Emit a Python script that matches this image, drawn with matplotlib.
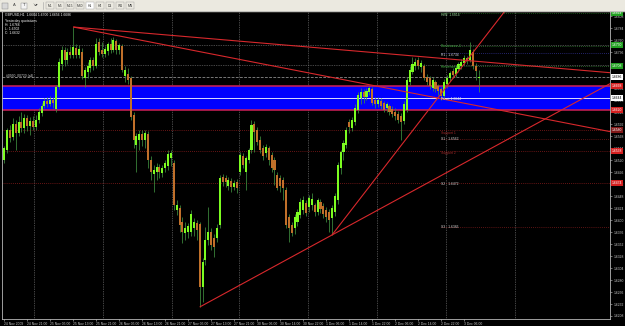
#!/usr/bin/env python3

import matplotlib
matplotlib.use("Agg")
import matplotlib.pyplot as plt
from matplotlib.patches import Rectangle
import numpy as np

plt.rcParams["font.family"] = ["Liberation Sans", "DejaVu Sans"]

W, H = 625, 326

# ---- data (GBPUSD H1, 24 Nov - 3 Dec 2009) ----
symbol = "GBPUSD,H1"

opens = [
    1.6520, 1.6540, 1.6580, 1.6566, 1.6592, 1.6574, 1.6596, 1.6584, 1.6604, 1.6588,
    1.6598, 1.6586, 1.6600, 1.6614, 1.6628, 1.6638, 1.6632, 1.6640, 1.6622, 1.6666,
    1.6712, 1.6740, 1.6720, 1.6736, 1.6730, 1.6744, 1.6730, 1.6736, 1.6684, 1.6696,
    1.6704, 1.6720, 1.6708, 1.6756, 1.6740, 1.6732, 1.6738, 1.6752, 1.6740, 1.6758,
    1.6740, 1.6748, 1.6688, 1.6692, 1.6684, 1.6610, 1.6550, 1.6560, 1.6572, 1.6560,
    1.6572, 1.6520, 1.6492, 1.6496, 1.6506, 1.6494, 1.6504, 1.6508, 1.6524, 1.6514,
    1.6420, 1.6424, 1.6396, 1.6374, 1.6376, 1.6376, 1.6384, 1.6394, 1.6392, 1.6266,
    1.6320, 1.6360, 1.6376, 1.6364, 1.6364, 1.6390, 1.6486, 1.6484, 1.6468, 1.6478,
    1.6466, 1.6476, 1.6496, 1.6528, 1.6496, 1.6520, 1.6540, 1.6592, 1.6580, 1.6560,
    1.6544, 1.6534, 1.6544, 1.6530, 1.6520, 1.6490, 1.6484, 1.6480, 1.6460, 1.6406,
    1.6390, 1.6384, 1.6396, 1.6410, 1.6420, 1.6434, 1.6426, 1.6430, 1.6430, 1.6416,
    1.6436, 1.6428, 1.6420, 1.6416, 1.6404, 1.6416, 1.6440, 1.6504, 1.6536, 1.6550,
    1.6596, 1.6584, 1.6596, 1.6620, 1.6644, 1.6656, 1.6646, 1.6656, 1.6662, 1.6640,
    1.6632, 1.6638, 1.6634, 1.6624, 1.6628, 1.6622, 1.6616, 1.6612, 1.6608, 1.6598,
    1.6620, 1.6676, 1.6696, 1.6708, 1.6720, 1.6706, 1.6708, 1.6686, 1.6684, 1.6664,
    1.6676, 1.6668, 1.6662, 1.6648, 1.6672, 1.6684, 1.6698, 1.6692, 1.6702, 1.6708,
    1.6714, 1.6724, 1.6720, 1.6736, 1.6708, 1.6684,
]
highs = [
    1.6548, 1.6584, 1.6590, 1.6604, 1.6600, 1.6608, 1.6616, 1.6612, 1.6610, 1.6606,
    1.6608, 1.6610, 1.6624, 1.6634, 1.6644, 1.6646, 1.6648, 1.6646, 1.6670, 1.6724,
    1.6748, 1.6746, 1.6744, 1.6748, 1.6786, 1.6752, 1.6750, 1.6744, 1.6706, 1.6716,
    1.6726, 1.6726, 1.6764, 1.6764, 1.6756, 1.6748, 1.6756, 1.6764, 1.6766, 1.6762,
    1.6754, 1.6752, 1.6708, 1.6704, 1.6688, 1.6616, 1.6574, 1.6580, 1.6580, 1.6580,
    1.6578, 1.6528, 1.6510, 1.6514, 1.6512, 1.6510, 1.6520, 1.6540, 1.6540, 1.6520,
    1.6440, 1.6430, 1.6406, 1.6396, 1.6394, 1.6420, 1.6404, 1.6400, 1.6396, 1.6324,
    1.6386, 1.6426, 1.6384, 1.6372, 1.6392, 1.6490, 1.6492, 1.6490, 1.6486, 1.6484,
    1.6480, 1.6482, 1.6536, 1.6534, 1.6528, 1.6544, 1.6600, 1.6598, 1.6586, 1.6568,
    1.6550, 1.6552, 1.6548, 1.6536, 1.6526, 1.6496, 1.6490, 1.6486, 1.6466, 1.6412,
    1.6396, 1.6412, 1.6422, 1.6444, 1.6448, 1.6440, 1.6450, 1.6454, 1.6434, 1.6444,
    1.6442, 1.6434, 1.6426, 1.6422, 1.6430, 1.6454, 1.6516, 1.6540, 1.6560, 1.6586,
    1.6602, 1.6606, 1.6632, 1.6656, 1.6664, 1.6662, 1.6664, 1.6668, 1.6666, 1.6646,
    1.6646, 1.6644, 1.6638, 1.6636, 1.6632, 1.6628, 1.6624, 1.6618, 1.6614, 1.6638,
    1.6686, 1.6708, 1.6726, 1.6724, 1.6726, 1.6720, 1.6712, 1.6692, 1.6688, 1.6686,
    1.6680, 1.6672, 1.6666, 1.6682, 1.6690, 1.6698, 1.6704, 1.6710, 1.6716, 1.6722,
    1.6730, 1.6728, 1.6756, 1.6742, 1.6714, 1.6700,
]
lows = [
    1.6514, 1.6534, 1.6556, 1.6560, 1.6540, 1.6568, 1.6576, 1.6574, 1.6578, 1.6570,
    1.6580, 1.6580, 1.6594, 1.6608, 1.6624, 1.6626, 1.6628, 1.6624, 1.6616, 1.6662,
    1.6700, 1.6708, 1.6712, 1.6724, 1.6724, 1.6724, 1.6724, 1.6682, 1.6666, 1.6684,
    1.6696, 1.6700, 1.6704, 1.6730, 1.6726, 1.6726, 1.6730, 1.6734, 1.6736, 1.6732,
    1.6732, 1.6696, 1.6676, 1.6672, 1.6600, 1.6544, 1.6496, 1.6540, 1.6548, 1.6544,
    1.6504, 1.6480, 1.6456, 1.6480, 1.6484, 1.6486, 1.6496, 1.6500, 1.6508, 1.6420,
    1.6410, 1.6376, 1.6354, 1.6360, 1.6364, 1.6368, 1.6368, 1.6360, 1.6226, 1.6236,
    1.6310, 1.6350, 1.6340, 1.6326, 1.6356, 1.6384, 1.6468, 1.6466, 1.6460, 1.6456,
    1.6460, 1.6454, 1.6490, 1.6504, 1.6460, 1.6514, 1.6534, 1.6536, 1.6550, 1.6534,
    1.6520, 1.6526, 1.6510, 1.6496, 1.6470, 1.6460, 1.6456, 1.6440, 1.6384, 1.6356,
    1.6368, 1.6372, 1.6388, 1.6404, 1.6412, 1.6408, 1.6416, 1.6420, 1.6408, 1.6410,
    1.6414, 1.6404, 1.6396, 1.6376, 1.6370, 1.6408, 1.6432, 1.6492, 1.6520, 1.6544,
    1.6574, 1.6578, 1.6590, 1.6614, 1.6632, 1.6634, 1.6640, 1.6650, 1.6630, 1.6624,
    1.6626, 1.6622, 1.6616, 1.6616, 1.6610, 1.6606, 1.6600, 1.6594, 1.6560, 1.6592,
    1.6616, 1.6670, 1.6692, 1.6700, 1.6702, 1.6696, 1.6680, 1.6670, 1.6662, 1.6658,
    1.6656, 1.6650, 1.6640, 1.6642, 1.6664, 1.6678, 1.6684, 1.6686, 1.6696, 1.6702,
    1.6710, 1.6712, 1.6716, 1.6702, 1.6680, 1.6656,
]
closes = [
    1.6544, 1.6580, 1.6564, 1.6592, 1.6574, 1.6596, 1.6584, 1.6604, 1.6588, 1.6598,
    1.6586, 1.6600, 1.6616, 1.6628, 1.6638, 1.6632, 1.6640, 1.6634, 1.6666, 1.6716,
    1.6740, 1.6720, 1.6736, 1.6730, 1.6746, 1.6730, 1.6742, 1.6688, 1.6700, 1.6708,
    1.6720, 1.6708, 1.6752, 1.6736, 1.6732, 1.6742, 1.6752, 1.6740, 1.6760, 1.6740,
    1.6750, 1.6700, 1.6700, 1.6680, 1.6606, 1.6560, 1.6568, 1.6572, 1.6560, 1.6574,
    1.6520, 1.6496, 1.6500, 1.6506, 1.6496, 1.6504, 1.6514, 1.6532, 1.6534, 1.6430,
    1.6430, 1.6390, 1.6376, 1.6384, 1.6388, 1.6412, 1.6396, 1.6380, 1.6266, 1.6316,
    1.6360, 1.6376, 1.6350, 1.6346, 1.6384, 1.6484, 1.6476, 1.6476, 1.6480, 1.6466,
    1.6474, 1.6464, 1.6530, 1.6510, 1.6524, 1.6540, 1.6590, 1.6576, 1.6556, 1.6540,
    1.6528, 1.6546, 1.6520, 1.6504, 1.6500, 1.6464, 1.6468, 1.6464, 1.6390, 1.6384,
    1.6374, 1.6406, 1.6416, 1.6436, 1.6440, 1.6414, 1.6444, 1.6442, 1.6416, 1.6440,
    1.6422, 1.6412, 1.6406, 1.6400, 1.6424, 1.6448, 1.6510, 1.6536, 1.6554, 1.6580,
    1.6586, 1.6600, 1.6624, 1.6650, 1.6656, 1.6646, 1.6658, 1.6664, 1.6634, 1.6632,
    1.6640, 1.6628, 1.6620, 1.6632, 1.6616, 1.6612, 1.6608, 1.6600, 1.6596, 1.6632,
    1.6680, 1.6700, 1.6712, 1.6716, 1.6708, 1.6714, 1.6684, 1.6676, 1.6668, 1.6680,
    1.6662, 1.6658, 1.6648, 1.6676, 1.6684, 1.6694, 1.6690, 1.6704, 1.6712, 1.6716,
    1.6724, 1.6718, 1.6740, 1.6708, 1.6698, 1.6686,
]

time_labels = [
    "24 Nov 2009", "24 Nov 21:00", "25 Nov 05:00", "25 Nov 13:00", "25 Nov 21:00",
    "26 Nov 05:00", "26 Nov 13:00", "26 Nov 21:00", "27 Nov 05:00", "27 Nov 13:00",
    "27 Nov 21:00", "30 Nov 06:00", "30 Nov 14:00", "30 Nov 22:00", "1 Dec 06:00",
    "1 Dec 14:00", "1 Dec 22:00", "2 Dec 06:00", "2 Dec 14:00", "2 Dec 22:00",
    "3 Dec 06:00",
]
label_bars = list(range(0, 161, 8))
day_breaks = [10.5, 34.5, 58.5, 81.5, 105.5, 129.5, 153.5, 177.5]

# zone (blue rectangle) and horizontal levels
zone_top = 1.6668
zone_bottom = 1.6620
zone_mid = 1.6644
grey_levels = [1.6750, 1.6710]
red_levels = [1.6580, 1.6538, 1.6474]

# daily pivot block, drawn from bar 152 onward
pivot_start = 152
pivot_names = ["HiW: 1.6814", "Resistance 2", "R1 : 1.6734", "Resistance 1", "Pivot: 1.6644",
               "Support 1", "S1 : 1.6562", "Support 2", "S2 : 1.6472", "S3 : 1.6386"]
pivot_text_prices = [1.6810, 1.6748, 1.6730, 1.6706, 1.6642,
                     1.6574, 1.6562, 1.6534, 1.6472, 1.6386]
pivot_text_colors = ["#9fd89f", "#3c9a3c", "#d8d8d8", "#3c9a3c", "#e0e0e0",
                     "#a02828", "#d8d8d8", "#a02828", "#d8d8d8", "#d8d8d8"]
pivot_line_prices = [1.6814, 1.6748, 1.6734, 1.6708, 1.6562, 1.6386]
pivot_line_colors = ["#1f6a1f", "#2f7a2f", "#303090", "#2f7a2f", "#7a1a1a", "#7a1a1a"]

# trend lines as (bar, price) anchor pairs, extended to the right edge
trend_lines = [
    ((24, 1.6786), (165, 1.6717)),
    ((24, 1.6786), (165, 1.6628)),
    ((68, 1.6226), (114, 1.6370)),
    ((114, 1.6370), (150, 1.6638)),
]

# coloured price boxes on the right scale
mark_prices = [1.6814, 1.6750, 1.6708, 1.6686, 1.6668, 1.6644, 1.6620, 1.6580, 1.6538, 1.6474]
mark_colors = ["#22a022", "#22a022", "#22a022", "white", "#d42020",
               "white", "#d42020", "#801818", "#d42020", "#d42020"]

price_ticks = np.arange(1.6208, 1.6812, 0.0024)

toolbar_buttons = ["M1", "M5", "M15", "M30", "H1", "H4", "D1", "W1", "MN"]


def px_box(x0, y0, x1, y1):
    return [x0 / W, 1 - y1 / H, (x1 - x0) / W, (y1 - y0) / H]


def main():
    fig = plt.figure(figsize=(W / 100, H / 100), dpi=100, facecolor="black")

    # main chart window
    ax = fig.add_axes(px_box(2, 11, 610, 319), facecolor="black")
    ax.set_xlim(-0.765, 210.7)
    ax.set_ylim(1.6202, 1.6818)

    # vertical day separators
    ax.vlines(day_breaks, 1.6202, 1.6818, colors="#8a8a8a",
              linestyles=(0, (1, 1.5)), linewidth=0.5, zorder=0)

    # blue zone with its edges and mid line
    ax.axhspan(zone_bottom, zone_top, facecolor="#0000ff", edgecolor="none", zorder=1)
    for p in (zone_top, zone_bottom):
        ax.axhline(p, color="#d0205a", linewidth=1.1, zorder=2)
    ax.axhline(zone_mid, color="white", linewidth=0.6, zorder=2)

    for p in grey_levels:
        ax.axhline(p, color="#8a8a8a", linestyle=(0, (1, 1.5)), linewidth=0.5, zorder=0)
    for p in red_levels:
        ax.axhline(p, color="#8a1c1c", linestyle=(0, (1, 1.5)), linewidth=0.6, zorder=0)
    for p, col in zip(pivot_line_prices, pivot_line_colors):
        ax.hlines(p, pivot_start, 210.7, colors=col, linestyles=(0, (1, 1.5)),
                  linewidth=0.6, zorder=0)

    # bid line
    ax.axhline(closes[-1], color="#a8a8a8", linestyle=(0, (4, 2)), linewidth=0.5, zorder=2)

    # candles
    o = np.array(opens)
    h = np.array(highs)
    lo = np.array(lows)
    c = np.array(closes)
    x = np.arange(len(o))
    up = c >= o
    ax.vlines(x, lo, h, colors="#3f8f3f", linewidth=0.55, zorder=3)
    body = np.maximum(np.abs(c - o), 0.00008)
    ax.bar(x[up], body[up], bottom=o[up], width=0.72, color="#7cfc20",
           linewidth=0, zorder=4)
    ax.bar(x[~up], body[~up], bottom=c[~up], width=0.72, color="#c0702a",
           linewidth=0, zorder=4)

    # trend lines
    x_end = 210.7
    for (x1, y1), (x2, y2) in trend_lines:
        slope = (y2 - y1) / (x2 - x1)
        ax.plot([x1, x_end], [y1, y1 + slope * (x_end - x1)], color="#d8282c",
                linewidth=0.8, zorder=5, solid_capstyle="butt")

    # pivot texts
    for name, p, col in zip(pivot_names, pivot_text_prices, pivot_text_colors):
        ax.text(pivot_start, p, name, color=col, fontsize=2.4, va="center",
                ha="left", zorder=6)
    ax.text(0.8, 1.6687, "#0950_00720 (all)", color="#d0d0d0", fontsize=2.4,
            va="center", ha="left", zorder=6)

    # price scale on the right
    ax.yaxis.tick_right()
    ax.set_yticks(price_ticks)
    ax.set_yticklabels([f"{p:.4f}" for p in price_ticks])
    ax.tick_params(axis="y", colors="#c8c8c8", labelsize=2.4, length=1.5,
                   width=0.4, pad=1)
    ytr = ax.get_yaxis_transform()
    for p, col in zip(mark_prices, mark_colors):
        txt_col = "black" if col == "white" else "white"
        ax.text(1.0033, p, f"{p:.4f}", transform=ytr, color=txt_col, fontsize=2.4,
                va="center", ha="left", zorder=7, clip_on=False,
                bbox=dict(boxstyle="square,pad=0.25", fc=col, ec="none"))

    # time scale
    ax.set_xticks(label_bars)
    ax.set_xticklabels(time_labels, ha="left")
    ax.tick_params(axis="x", colors="#c8c8c8", labelsize=2.4, length=1.5,
                   width=0.4, pad=0.8)

    for side in ("left", "bottom", "right"):
        ax.spines[side].set_color("#b8b8b8")
        ax.spines[side].set_linewidth(0.6)
    ax.spines["top"].set_visible(False)

    # overlay in pixel units for toolbar and chart header
    ov = fig.add_axes([0, 0, 1, 1])
    ov.set_xlim(0, W)
    ov.set_ylim(H, 0)
    ov.axis("off")
    ov.add_patch(Rectangle((0, 0), W, 11, color="#ebe9e0", zorder=1))
    ov.plot([0, W], [10.6, 10.6], color="#a0a0a0", linewidth=0.4, zorder=2)
    ov.add_patch(Rectangle((2, 2.5), 6, 6, fc="#d8d8d8", ec="#808080", lw=0.3, zorder=2))
    ov.text(14, 5.5, "A", fontsize=3, color="#404040", ha="center", va="center", zorder=3)
    ov.add_patch(Rectangle((21, 2.5), 6, 6, fc="#f4f4f4", ec="#808080", lw=0.3, zorder=2))
    ov.text(24, 5.5, "T", fontsize=3, color="#404040", ha="center", va="center", zorder=3)
    ov.text(35, 5.5, "↘▾", fontsize=3, color="#404040", ha="center", va="center", zorder=3)
    ov.plot([43, 43], [2, 9], color="#a0a0a0", linewidth=0.4, zorder=2)
    for k, name in enumerate(toolbar_buttons):
        cx = 50 + 10 * k
        fc = "white" if name == "H1" else "#ebe9e0"
        ov.add_patch(Rectangle((cx - 4.2, 2.2), 8.4, 6.6, fc=fc, ec="#9a9a9a",
                               lw=0.3, zorder=2))
        ov.text(cx, 5.6, name, fontsize=2.4, color="#303030", ha="center",
                va="center", zorder=3)

    header = f"{symbol}  {opens[-1]:.4f} {highs[-1]:.4f} {lows[-1]:.4f} {closes[-1]:.4f}"
    ov.text(5, 14.5, header, fontsize=2.4, color="white", va="center", zorder=3)
    info = ["Yesterday quotations", "H: 1.6766", "L: 1.6502", "C: 1.6632"]
    for k, line in enumerate(info):
        ov.text(5, 21 + 4 * k, line, fontsize=2.4, color="white", va="center", zorder=3)

    fig.savefig("out.png", dpi=100, facecolor="black")


if __name__ == "__main__":
    main()
